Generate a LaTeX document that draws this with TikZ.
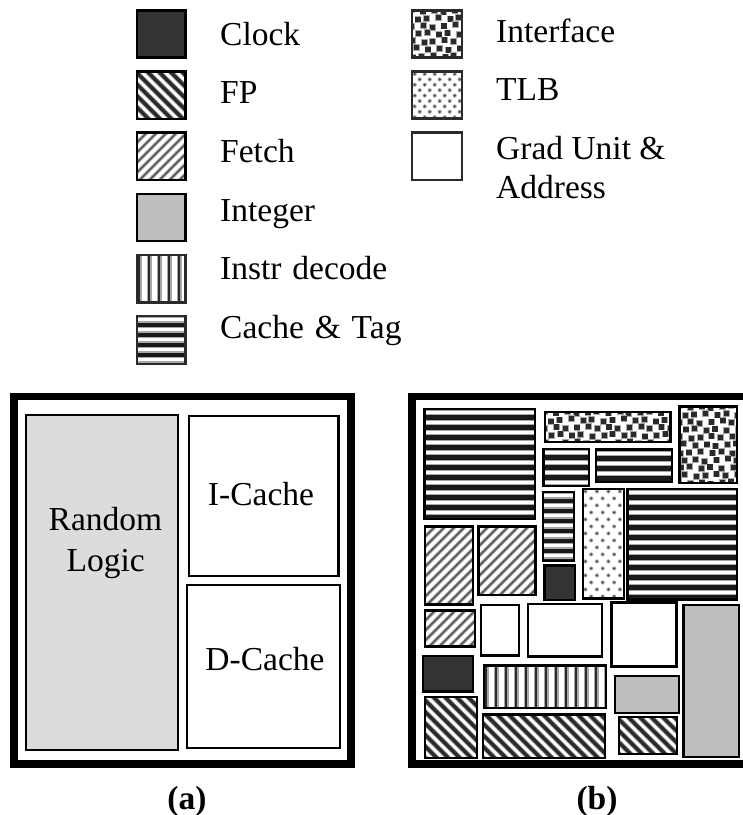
\documentclass[tikz,border=0pt]{standalone}
\usepackage{fontspec}
\setmainfont{Liberation Serif}
\definecolor{clockc}{HTML}{333333}
\definecolor{intc}{HTML}{BEBEBE}
\definecolor{randc}{HTML}{DCDCDC}
\definecolor{darkc}{HTML}{2A2A2A}
\definecolor{softc}{HTML}{A8A8A8}
\tikzset{
  legtext/.style={anchor=base west,inner sep=0pt,font=\fontsize{33.5}{40}\selectfont},
  ctext/.style={anchor=base,inner sep=0pt,font=\fontsize{33.5}{40}\selectfont},
  captext/.style={anchor=base,inner sep=0pt,font=\fontsize{33.5}{40}\selectfont\bfseries},
  fpline/.style={draw=darkc,line width=3.2pt},
  fpsoft/.style={draw=softc!80!black,line width=5pt},
  feline/.style={draw=black!65,line width=1.6pt},
  fesoft/.style={draw=softc,line width=3.4pt},
}
\def\frc{black}
% #1 x1, #2 y1, #3 x2, #4 y2 (outer edges), #5 fill or pattern commands
\newcommand\blockbox[5]{%
  \pgfmathsetmacro\bxa{#1+1.2}\pgfmathsetmacro\bya{#2+1.2}%
  \pgfmathsetmacro\bxb{#3-1.2}\pgfmathsetmacro\byb{#4-1.2}%
  \begin{scope}
    \clip (\bxa,\bya) rectangle (\bxb,\byb);
    #5
  \end{scope}
  \draw[draw=\frc,line width=2.4pt] (\bxa,\bya) rectangle (\bxb,\byb);
}
\newcommand\solidp[1]{\fill[#1] (\bxa,\bya) rectangle (\bxb,\byb);}
\newcommand\plainp{\fill[white] (\bxa,\bya) rectangle (\bxb,\byb);}
\newcommand\fpp{\plainp
  \pgfmathsetmacro\sa{\bxa-\byb}\pgfmathtruncatemacro\na{ceil((\bxb-\bya-\sa)/11.5)}%
  \foreach \k in {0,...,\na}{\pgfmathsetmacro\c{\sa+11.5*\k}%
    \draw[fpsoft] (\c,0) -- ++(800,800);\draw[fpline] (\c,0) -- ++(800,800);}}
\newcommand\fetchp{\plainp
  \pgfmathsetmacro\sa{\bxa+\bya}\pgfmathtruncatemacro\na{ceil((\bxb+\byb-\sa)/10)}%
  \foreach \k in {0,...,\na}{\pgfmathsetmacro\c{\sa+10*\k}%
    \draw[fesoft] (\c,0) -- ++(-800,800);\draw[feline] (\c,0) -- ++(-800,800);}}
\newcommand\cachep{\plainp
  \pgfmathtruncatemacro\na{ceil((\byb-\bya)/10)+1}%
  \foreach \k in {0,...,\na}{\pgfmathsetmacro\c{\bya+1.5-10+10*\k}%
    \fill[softc] (\bxa,\c+3.5) rectangle (\bxb,\c+5);
    \fill[darkc!60!black] (\bxa,\c+5) rectangle (\bxb,\c+9.5);
    \fill[softc] (\bxa,\c+9.5) rectangle (\bxb,\c+10);}}
\newcommand\instrp{\plainp
  \pgfmathtruncatemacro\na{ceil((\bxb-\bxa)/10)}%
  \foreach \k in {0,...,\na}{\pgfmathsetmacro\c{\bxa+2+10*\k}%
    \fill[softc] (\c-1.6,\bya) rectangle (\c+2.8,\byb);
    \fill[darkc] (\c-1.3,\bya) rectangle (\c+1.3,\byb);}}
\newcommand\ifacep{\plainp
  \pgfmathtruncatemacro\nx{ceil((\bxb-\bxa)/10.5)}\pgfmathtruncatemacro\ny{ceil((\byb-\bya)/7.6)}%
  \foreach \j in {0,...,\ny}{\foreach \i in {0,...,\nx}{%
    \pgfmathsetmacro\px{\bxa+10.5*\i+5*mod(\j,2)+mod(\i*7+\j*3,5)*0.6-1}%
    \pgfmathsetmacro\py{\bya+7.6*\j+mod(\i*3+\j*4,5)*0.6-1}%
    \fill[softc] (\px-3.4,\py-3.4) rectangle (\px+3.4,\py+3.4);
    \fill[darkc] (\px-2.6,\py-2.6) rectangle (\px+2.6,\py+2.6);}}}
% #1 horizontal period, #2 row period
\newcommand\tlbp[2]{\plainp
  \pgfmathtruncatemacro\nx{ceil((\bxb-\bxa)/#1)}\pgfmathtruncatemacro\ny{ceil((\byb-\bya)/#2)}%
  \foreach \j in {0,...,\ny}{\foreach \i in {0,...,\nx}{%
    \pgfmathsetmacro\px{\bxa+2.5+#1*\i+0.5*#1*mod(\j,2)}\pgfmathsetmacro\py{\bya+2.5+#2*\j}%
    \fill[softc] (\px,\py) circle (2.1);
    \fill[black!70] (\px,\py) circle (1.2);}}}
\begin{document}
\begin{tikzpicture}[x=1pt,y=-1pt]
\useasboundingbox (0,0) rectangle (743,815);
% legend left
\blockbox{135.7}{9.3}{186.7}{58.7}{\solidp{clockc}}
\blockbox{135.7}{70.3}{186.7}{120}{\fpp}
\blockbox{135.7}{131.3}{186.7}{181}{\fetchp}
\blockbox{135.7}{192.5}{186.7}{242.3}{\solidp{intc}}
\def\frc{darkc}
\blockbox{135.7}{254}{186.7}{303.5}{\instrp}
\blockbox{135.7}{315}{186.7}{365}{\cachep}
\node[legtext] (lclock) at (220,45) {Clock};
\node[legtext] (lfp) at (220,103.5) {FP};
\node[legtext] (lfetch) at (220,162) {Fetch};
\node[legtext] (lint) at (220,221) {Integer};
\node[legtext] (linstr) at (220,279.5) {Instr\hspace{2.5pt} decode};
\node[legtext] (lcache) at (220,338) {Cache\hspace{2.5pt} \&\hspace{2.5pt} Tag};
% legend right
\blockbox{411}{9.3}{463}{58.7}{\ifacep}
\blockbox{411}{70.3}{463}{119.5}{\tlbp{10}{5.4}}
\blockbox{411}{131.3}{463}{181}{\plainp}
\def\frc{black}
\node[legtext] (liface) at (496,42) {Interface};
\node[legtext] (ltlb) at (496,100) {TLB};
\node[legtext] (lgrad) at (496,159) {Grad Unit \&};
\node[legtext] (laddr) at (496,198) {Address};
% panel a
\draw[draw=black,line width=7.7pt] (14.2,396.5) rectangle (350.8,764.2);
\blockbox{25}{414}{179.3}{751}{\solidp{randc}}
\blockbox{187.7}{414.7}{339.7}{577.3}{\plainp}
\blockbox{186}{584}{341.3}{749.3}{\plainp}
\node[ctext] (trand) at (105.5,530.7) {Random};
\node[ctext] (tlogic) at (105.7,571.7) {Logic};
\node[ctext] (ticache) at (261,505) {I-Cache};
\node[ctext] (tdcache) at (265,670.7) {D-Cache};
\node[captext] (capa) at (187,809) {(a)};
% panel b
\draw[draw=black,line width=7.7pt] (760,396.6) -- (412.2,396.6) -- (412.2,764.2) -- (760,764.2);
\blockbox{423.3}{407.7}{536}{520}{\cachep}
\blockbox{544}{411}{671.7}{443.3}{\ifacep}
\blockbox{678.3}{405.3}{738.3}{484.3}{\ifacep}
\blockbox{542.3}{447.7}{590}{487}{\cachep}
\blockbox{594.7}{448.3}{673.3}{483}{\cachep}
\blockbox{541.7}{491}{575.3}{562.3}{\cachep}
\blockbox{543.3}{564.3}{576}{601}{\solidp{clockc}}
\blockbox{581.7}{487.7}{625}{599.7}{\tlbp{11.5}{7}}
\blockbox{626.3}{487.7}{738.3}{600.7}{\cachep}
\blockbox{424}{525.3}{474}{605.7}{\fetchp}
\blockbox{477.3}{525.3}{536.7}{596.3}{\fetchp}
\blockbox{424}{609.3}{476}{647.7}{\fetchp}
\blockbox{479.7}{604}{520.3}{656.7}{\plainp}
\blockbox{527}{603}{603}{657.7}{\plainp}
\blockbox{610.3}{601.3}{677.7}{667.7}{\plainp}
\blockbox{682.3}{603.7}{740}{758}{\solidp{intc}}
\blockbox{421.7}{654.7}{474}{692.7}{\solidp{clockc}}
\blockbox{482.7}{664.3}{607}{709.3}{\instrp}
\blockbox{613.7}{675}{680.3}{714}{\solidp{intc}}
\blockbox{617.7}{715.7}{678}{755}{\fpp}
\blockbox{424}{696}{478}{759}{\fpp}
\blockbox{482}{713.3}{606.3}{759.3}{\fpp}
\node[captext] (capb) at (597,809) {(b)};
\end{tikzpicture}
\end{document}
